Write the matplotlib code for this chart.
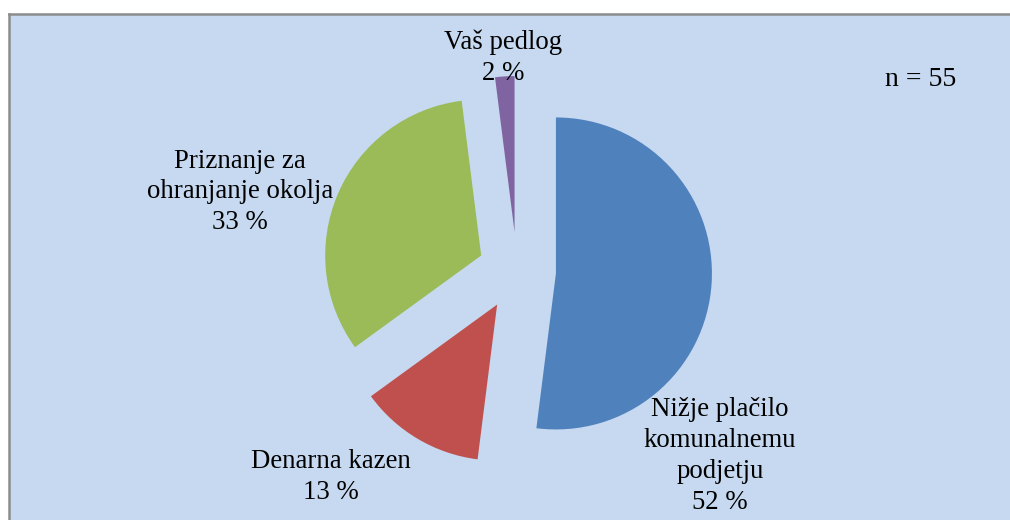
import matplotlib.pyplot as plt
from matplotlib.patches import Rectangle

plt.rcParams["font.family"] = ["Liberation Serif", "DejaVu Serif"]

labels = ["Nižje plačilo\nkomunalnemu\npodjetju", "Denarna kazen",
          "Priznanje za\nohranjanje okolja", "Vaš pedlog"]
shares = [52, 13, 33, 2]
colors = ["#4F81BD", "#C0504D", "#9BBB59", "#8064A2"]
n_total = 55

W, H = 1010, 520
cx, cy, r = 517, 271, 156

fig = plt.figure(figsize=(W / 100, H / 100), dpi=100)
fig.patch.set_facecolor("white")

# chart area background with grey border on top / left
bg = Rectangle((9 / W, 0), 1 - 9 / W, 1 - 14 / H, transform=fig.transFigure,
               facecolor="#C6D9F0", edgecolor="none", zorder=-2)
fig.patches.append(bg)
fig.add_artist(plt.Line2D([9 / W, 1], [1 - 14 / H, 1 - 14 / H], color="#8C8C8C",
                          lw=1.8, transform=fig.transFigure, zorder=-1))
fig.add_artist(plt.Line2D([9 / W, 9 / W], [0, 1 - 14 / H], color="#8C8C8C",
                          lw=1.8, transform=fig.transFigure, zorder=-1))

ax = fig.add_axes([0, 0, 1, 1])
ax.set_facecolor("none")
ax.pie(shares, colors=colors, startangle=90, counterclock=False,
       explode=[0.25] * len(shares), radius=1,
       wedgeprops=dict(linewidth=0))
ax.set_aspect("auto")
ax.set_xlim(-cx / r, (W - cx) / r)
ax.set_ylim(-(H - cy) / r, cy / r)
ax.axis("off")

# label centres in pixels (x, y from top)
label_pos = [(720, 456), (331, 477), (240, 192), (503, 58)]
for lab, val, (px, py) in zip(labels, shares, label_pos):
    fig.text(px / W, 1 - py / H, f"{lab}\n{val} %", ha="center", va="center",
             fontsize=19.3, linespacing=1.31, color="black")

fig.text(921 / W, 1 - 80 / H, f"n = {n_total}", ha="center", va="center",
         fontsize=20, color="black")

fig.savefig("out.png", dpi=100)
